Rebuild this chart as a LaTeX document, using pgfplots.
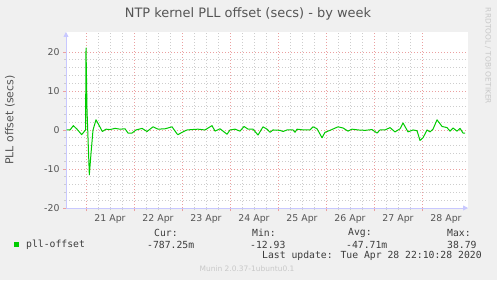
\documentclass[border=0pt]{standalone}
\usepackage{fontspec}
\setmainfont{DejaVu Sans}
\newfontfamily\monof{DejaVu Sans Mono}
\usepackage{pgfplots}
\pgfplotsset{compat=1.18}
\usetikzlibrary{arrows.meta}
\definecolor{bg}{RGB}{240,240,240}
\definecolor{mgrid}{RGB}{235,160,160}
\definecolor{ngrid}{RGB}{205,205,205}
\definecolor{axblue}{RGB}{200,200,255}
\definecolor{lgreen}{RGB}{0,204,0}
\definecolor{txt}{RGB}{85,85,85}
\definecolor{ltxt}{RGB}{60,60,60}
\definecolor{faint}{RGB}{200,200,200}
\begin{document}
\begin{tikzpicture}[x=1bp,y=1bp]
\fill[bg] (0,0) rectangle (497,280);
\useasboundingbox (0,0) rectangle (497,280);
\begin{axis}[
  at={(66bp,72bp)}, anchor=south west,
  scale only axis, width=402bp, height=176bp,
  xmin=20.583, xmax=28.958, ymin=-20, ymax=25.1,
  axis background/.style={fill=white},
  axis lines=left,
  axis line style={draw=axblue, line width=0.8bp},
  every outer x axis line/.append style={-{Triangle[length=5bp,width=5bp]}},
  every outer y axis line/.append style={-{Triangle[length=5bp,width=5bp]}},
  xtick={21,...,28},
  xticklabels={21 Apr,22 Apr,23 Apr,24 Apr,25 Apr,26 Apr,27 Apr,28 Apr},
  x tick label style={xshift=24bp, font=\fontsize{9.4}{10}\selectfont, text=txt},
  ytick={-20,-10,0,10,20},
  yticklabels={-20,-10,0,10,20},
  y tick label style={font=\fontsize{9.4}{10}\selectfont, text=txt},
  minor x tick num=3,
  minor y tick num=4,
  grid=both,
  major grid style={draw=mgrid, line width=0.6bp, dash pattern=on 1bp off 2bp},
  minor grid style={draw=ngrid, line width=0.6bp, dash pattern=on 1bp off 2bp},
  tick align=outside,
  major tick length=3bp, minor tick length=2bp,
  major tick style={draw=mgrid, line width=0.6bp},
  minor tick style={draw=ngrid, line width=0.6bp},
  clip=false,
]
\addplot[lgreen, line width=1bp, line join=round] coordinates {
(20.598,0) (20.667,0) (20.735,1.1) (20.8125,0.2) (20.910,-1.2) (20.969,-0.3) (20.990,0)
(21.0,21) (21.021,5) (21.069,-11.5) (21.104,-6) (21.146,0) (21.208,2.6) (21.271,1.2)
(21.340,-0.4) (21.417,0.2) (21.5,0.1) (21.604,0.4) (21.708,0.2) (21.8125,0.3) (21.875,-0.8)
(21.958,-0.8) (22.042,0) (22.167,0.4) (22.271,-0.4) (22.396,0.8) (22.5,0.2) (22.646,0.3)
(22.792,0.8) (22.896,-1.0) (22.917,-1.2) (23.0,-0.6) (23.104,0) (23.208,0.1) (23.333,0.2)
(23.479,0) (23.583,0.8) (23.625,1.1) (23.6875,-0.3) (23.792,0.3) (23.9375,-1.1) (24.0,0)
(24.104,0.2) (24.208,-0.3) (24.292,0.9) (24.375,0.2) (24.479,0.2) (24.583,-1.3) (24.6875,0.8)
(24.771,0.2) (24.833,-0.6) (24.896,0) (25.042,-0.1) (25.104,-0.4) (25.1875,0) (25.3125,0)
(25.354,-0.6) (25.396,0.2) (25.521,0) (25.667,0) (25.729,0.8) (25.8125,0.3) (25.917,-2.0)
(25.979,-0.6) (26.083,-0.1) (26.25,0.8) (26.354,0.5) (26.458,-0.3) (26.542,0.2) (26.667,0)
(26.8125,-0.1) (26.958,0.1) (27.0625,-0.8) (27.125,0) (27.229,0) (27.333,0.6) (27.4375,-0.5)
(27.542,0.3) (27.604,1.8) (27.708,-0.5) (27.8125,0) (27.896,-0.2) (27.958,-2.7) (28.021,-2.0)
(28.104,0) (28.167,-0.5) (28.229,0.2) (28.3125,2.6) (28.417,0.9) (28.521,0.6) (28.583,-0.3)
(28.646,0.5) (28.729,-0.3) (28.792,0.4) (28.854,-0.8) (28.896,-0.8)
};
\end{axis}
\node[text=txt, font=\fontsize{13}{13}\selectfont] at (248,266) {NTP kernel PLL offset (secs) - by week};
\node[text=txt, rotate=90, font=\fontsize{11}{11}\selectfont] at (10,160) {PLL offset (secs)};
\node[text=faint, rotate=-90, font=\fontsize{7.5}{8}\selectfont] at (488,224) {RRDTOOL / TOBI OETIKER};
\fill[lgreen] (14,33) rectangle (19,38);
\begin{scope}[every node/.style={anchor=west, inner sep=0, text=ltxt, font=\monof\fontsize{9.8}{10}\selectfont}]
\node at (26,35) {pll-offset};
\node at (154,47) {Cur:};
\node at (147,35) {-787.25m};
\node at (252,47) {Min:};
\node at (250,35) {-12.93};
\node at (348,47) {Avg:};
\node at (346,35) {-47.71m};
\node at (447,47) {Max:};
\node at (447,35) {38.79};
\node at (262,24) {Last update: Tue Apr 28 22:10:28 2020};
\end{scope}
\node[text=faint, font=\fontsize{7.5}{8}\selectfont] at (247,11) {Munin 2.0.37-1ubuntu0.1};
\end{tikzpicture}
\end{document}
